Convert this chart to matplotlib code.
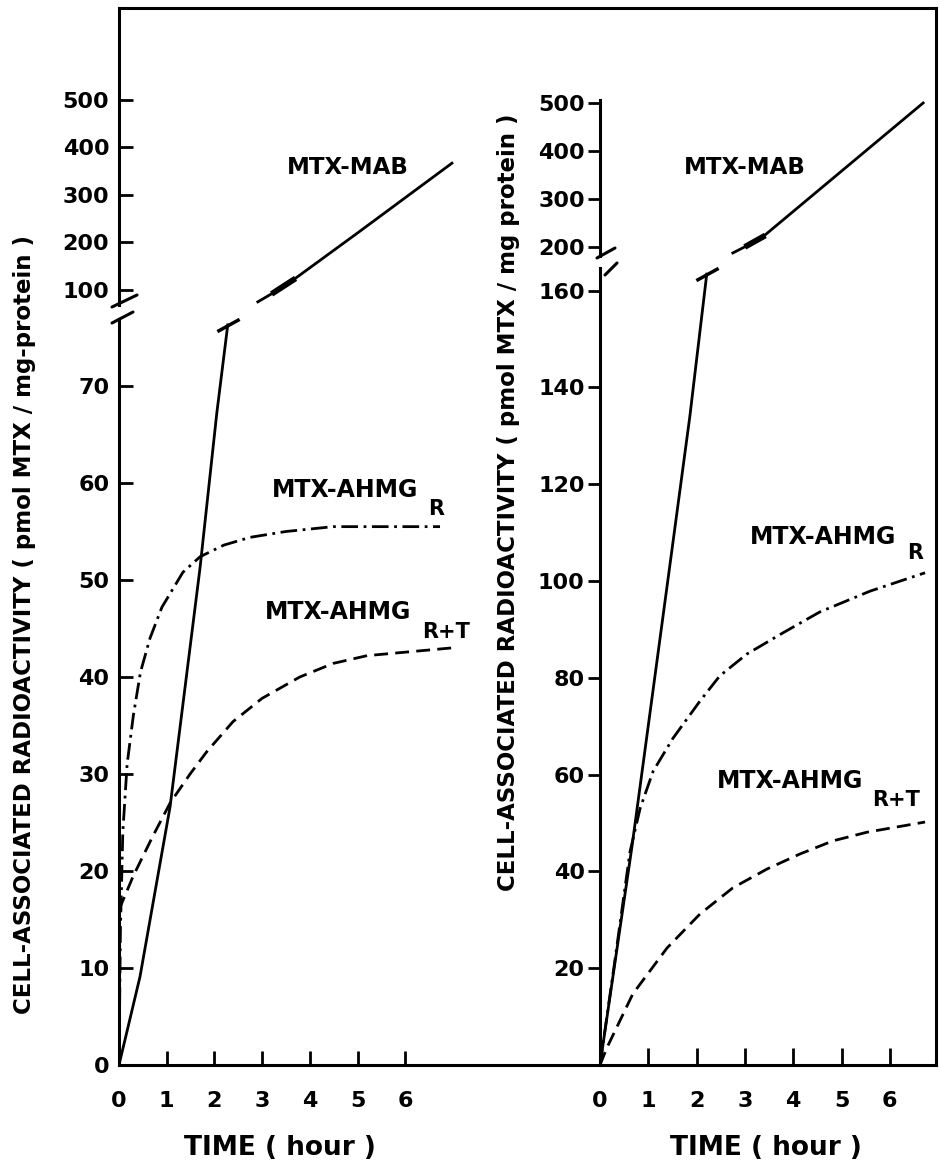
import matplotlib
matplotlib.use("Agg")
import matplotlib.pyplot as plt
from matplotlib.lines import Line2D

# canvas size in pixels (saved at 100 dpi)
W, H = 940, 1165

# ---------------- data ----------------
hours = [0, 1, 2, 3, 4, 5, 6]

# left panel: lower scale 0-70, upper scale 100-500
l_lo_ticks = [0, 10, 20, 30, 40, 50, 60, 70]
l_hi_ticks = [100, 200, 300, 400, 500]
l_mab_lo_t = [0, 0.44, 1.07, 1.70, 2.05, 2.28]
l_mab_lo_v = [0, 9.1, 26.6, 51.3, 67.2, 76.3]
l_mab_hi_t = [2.91, 3.25, 3.65, 5.0, 6.98]
l_mab_hi_v = [75, 95, 121, 220, 367]
l_r_t = [0, 0.03, 0.08, 0.17, 0.30, 0.45, 0.65, 0.90, 1.34, 1.70, 2.20, 2.75, 3.5, 4.49, 6.73]
l_r_v = [0, 14, 24, 31, 36, 40.5, 44, 47.2, 50.8, 52.4, 53.6, 54.4, 55.0, 55.5, 55.5]
l_rt_t = [0, 0.3, 0.7, 1.07, 1.49, 1.84, 2.39, 3.0, 3.79, 4.49, 5.2, 6.98]
l_rt_v = [16, 19.5, 23.5, 27, 30, 32.3, 35.4, 37.8, 40, 41.4, 42.2, 43]

# right panel: lower scale 20-160, upper scale 200-500
r_lo_ticks = [20, 40, 60, 80, 100, 120, 140, 160]
r_hi_ticks = [200, 300, 400, 500]
r_mab_lo_t = [0, 0.41, 0.66, 0.89, 1.45, 1.86, 2.21]
r_mab_lo_v = [0, 28, 45, 62, 103.5, 134, 163.4]
r_mab_hi_t = [2.75, 3.05, 3.37, 5.0, 6.69]
r_mab_hi_v = [187.5, 203, 221, 358, 500]
r_r_t = [0, 0.3, 0.62, 0.83, 1.1, 1.51, 2.07, 2.48, 3.04, 3.79, 4.55, 5.59, 6.73]
r_r_v = [0, 21, 44, 53, 60.7, 67.5, 75.2, 80.4, 84.9, 89.3, 93.6, 97.9, 101.7]
r_rt_t = [0, 0.14, 0.68, 1.39, 2.07, 2.75, 3.46, 4.14, 4.82, 5.53, 6.73]
r_rt_v = [0, 3.5, 14.7, 24.2, 31.2, 36.6, 40.5, 43.6, 46.3, 48.1, 50.2]

ylabel_l = "CELL-ASSOCIATED RADIOACTIVITY ( pmol MTX / mg-protein )"
ylabel_r = "CELL-ASSOCIATED RADIOACTIVITY ( pmol MTX / mg protein )"
xlabel = "TIME ( hour )"

# ---------------- style ----------------
plt.rcParams["font.family"] = ["DejaVu Sans"]
plt.rcParams["font.weight"] = "bold"

LW = 2.0
SPINE = 2.2
DASH = (0, (5.0, 2.6))
DASHDOT = (0, (6, 2, 1, 2))
SERIF = [(-1, -0.55), (1, 0.55)]

fig = plt.figure(figsize=(W / 100, H / 100), dpi=100, facecolor="white")


def px_axes(x0, y0, x1, y1):
    ax = fig.add_axes([x0 / W, 1 - y1 / H, (x1 - x0) / W, (y1 - y0) / H])
    ax.patch.set_alpha(0)
    for s in ax.spines.values():
        s.set_visible(False)
    ax.spines["left"].set_visible(True)
    ax.spines["left"].set_linewidth(SPINE)
    return ax


def px_line(x0, y0, x1, y1, lw=SPINE):
    fig.add_artist(Line2D([x0 / W, x1 / W], [1 - y0 / H, 1 - y1 / H],
                          transform=fig.transFigure, color="black",
                          lw=lw, solid_capstyle="round"))


def px_text(x, y, s, size, ha="left", **kw):
    fig.text(x / W, 1 - y / H, s, ha=ha, va="center", fontsize=size,
             fontweight="bold", **kw)


# box around both panels (top and right edges)
frame = fig.add_axes([119 / W, 1 - 1065 / H, (936 - 119) / W, (1065 - 8) / H])
frame.patch.set_alpha(0)
frame.set_xticks([])
frame.set_yticks([])
for side in ("left", "bottom"):
    frame.spines[side].set_visible(False)
for side in ("top", "right"):
    frame.spines[side].set_linewidth(SPINE)

# ---------------- left panel ----------------
axl_lo = px_axes(119, 320, 600, 1065)
axl_hi = px_axes(119, 8, 600, 305)
axl_lo.spines["bottom"].set_visible(True)
axl_lo.spines["bottom"].set_linewidth(SPINE)

axl_lo.set_xlim(0, 481 / 47.7)
axl_lo.set_ylim(0, 745 / 9.7)
axl_hi.set_xlim(axl_lo.get_xlim())
axl_hi.set_ylim(68.4, 693.7)

axl_lo.set_xticks(hours)
axl_lo.set_yticks(l_lo_ticks)
axl_hi.set_xticks([])
axl_hi.set_yticks(l_hi_ticks)
axl_lo.tick_params(axis="y", direction="in", length=10, width=2, pad=7, labelsize=16)
axl_lo.tick_params(axis="x", direction="in", length=10, width=2, pad=19, labelsize=16)
axl_hi.tick_params(axis="y", direction="in", length=10, width=2, pad=7, labelsize=16)

axl_lo.plot(l_mab_lo_t, l_mab_lo_v, color="black", lw=LW)
axl_lo.plot(l_mab_lo_t[-1:], l_mab_lo_v[-1:], color="black", marker=SERIF,
            ms=16, mew=LW + 0.5, clip_on=False)
axl_hi.plot(l_mab_hi_t, l_mab_hi_v, color="black", lw=LW, clip_on=False)
axl_hi.plot(l_mab_hi_t[1:3], l_mab_hi_v[1:3], color="black", lw=4.2)
axl_lo.plot(l_r_t, l_r_v, color="black", lw=LW, ls=DASHDOT)
axl_lo.plot(l_rt_t, l_rt_v, color="black", lw=LW, ls=DASH)

# ---------------- right panel ----------------
axr_lo = px_axes(600, 268, 936, 1065)
axr_hi = px_axes(600, 100, 936, 256)
axr_lo.spines["bottom"].set_visible(True)
axr_lo.spines["bottom"].set_linewidth(SPINE)

axr_lo.set_xlim(0, 336 / 48.3)
axr_lo.set_ylim(0, 797 / 4.84)
axr_hi.set_xlim(axr_lo.get_xlim())
axr_hi.set_ylim(181.2, 506.2)

axr_lo.set_xticks(hours)
axr_lo.set_yticks(r_lo_ticks)
axr_hi.set_xticks([])
axr_hi.set_yticks(r_hi_ticks)
axr_lo.tick_params(axis="y", direction="out", length=9, width=2, pad=2, labelsize=16)
axr_lo.tick_params(axis="x", direction="in", length=12, width=2, pad=19, labelsize=16)
axr_hi.tick_params(axis="y", direction="out", length=9, width=2, pad=2, labelsize=16)

axr_lo.plot(r_mab_lo_t, r_mab_lo_v, color="black", lw=LW)
axr_lo.plot(r_mab_lo_t[-1:], r_mab_lo_v[-1:], color="black", marker=SERIF,
            ms=16, mew=LW + 0.5, clip_on=False)
axr_hi.plot(r_mab_hi_t, r_mab_hi_v, color="black", lw=LW, clip_on=False)
axr_hi.plot(r_mab_hi_t[1:3], r_mab_hi_v[1:3], color="black", lw=4.2)
axr_lo.plot(r_r_t, r_r_v, color="black", lw=LW, ls=DASHDOT)
axr_lo.plot(r_rt_t, r_rt_v, color="black", lw=LW, ls=DASH)

# axis break strokes
px_line(112, 307, 137, 295)
px_line(112, 323, 133, 312)
px_line(597, 258, 615, 248)
px_line(605, 275, 617, 263)

# ---------------- labels ----------------
px_text(25, 625, ylabel_l, 16.5, ha="center", rotation=90)
px_text(508, 502, ylabel_r, 16.5, ha="center", rotation=90)
px_text(280, 1148, xlabel, 19, ha="center")
px_text(766, 1148, xlabel, 19, ha="center")

px_text(348, 168, "MTX-MAB", 16.5, ha="center")
px_text(745, 167, "MTX-MAB", 16.5, ha="center")
px_text(272, 490, "MTX-AHMG", 17)
px_text(428, 509, "R", 15)
px_text(265, 612, "MTX-AHMG", 17)
px_text(422, 632, "R+T", 15)
px_text(750, 537, "MTX-AHMG", 17)
px_text(907, 553, "R", 15)
px_text(717, 781, "MTX-AHMG", 17)
px_text(872, 800, "R+T", 15)

fig.savefig("out.png", dpi=100, facecolor="white")
